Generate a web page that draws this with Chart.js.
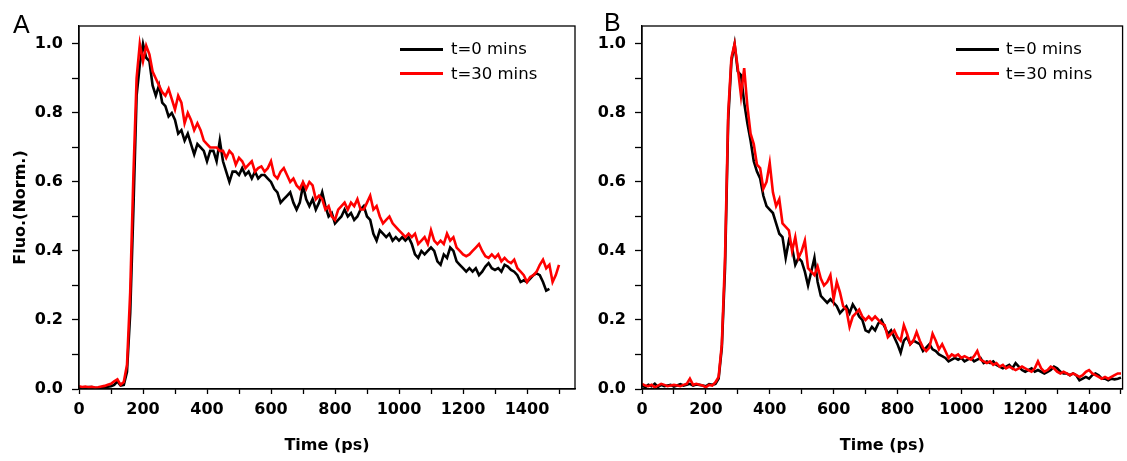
<!DOCTYPE html>
<html>
<head>
<meta charset="utf-8">
<script src="https://cdn.jsdelivr.net/npm/chart.js@4/dist/chart.umd.min.js"></script>
<style>
  body { margin: 0; background: #fff; width: 1127px; height: 461px; position: relative; overflow: hidden; }
  .panel { position: absolute; top: 0; }
  .letter { position: absolute; font: 25px "Liberation Sans", Arial, sans-serif; line-height: 25px; color: #000; }
  .leg { position: absolute; font: 16.5px "DejaVu Sans", sans-serif; line-height: 20px; color: #000; white-space: nowrap; }
  .legline { position: absolute; height: 3px; width: 43px; }
</style>
</head>
<body>
<div class="panel" style="left:0;width:590px;height:461px"><canvas id="chartA" width="590" height="461"></canvas></div>
<div class="panel" style="left:560px;width:567px;height:461px"><canvas id="chartB" width="567" height="461"></canvas></div>

<div class="letter" style="left:13px;top:12px">A</div>
<div class="letter" style="left:604px;top:10px">B</div>

<div class="legline" style="left:400px;top:47.5px;background:#000"></div>
<div class="leg" style="left:451px;top:39px">t=0 mins</div>
<div class="legline" style="left:400px;top:72px;background:#f00"></div>
<div class="leg" style="left:451px;top:63.5px">t=30 mins</div>

<div class="legline" style="left:956px;top:47.5px;background:#000"></div>
<div class="leg" style="left:1006px;top:39px">t=0 mins</div>
<div class="legline" style="left:956px;top:72px;background:#f00"></div>
<div class="leg" style="left:1006px;top:63.5px">t=30 mins</div>

<script>
// time axis (ps), shared by both panels
const timePs = [
  0,10,20,30,40,50,60,70,80,90,100,110,120,130,140,150,160,170,180,190,
  200,210,220,230,240,250,260,270,280,290,300,310,320,330,340,350,360,370,380,390,
  400,410,420,430,440,450,460,470,480,490,500,510,520,530,540,550,560,570,580,590,
  600,610,620,630,640,650,660,670,680,690,700,710,720,730,740,750,760,770,780,790,
  800,810,820,830,840,850,860,870,880,890,900,910,920,930,940,950,960,970,980,990,
  1000,1010,1020,1030,1040,1050,1060,1070,1080,1090,1100,1110,1120,1130,1140,1150,1160,1170,1180,1190,
  1200,1210,1220,1230,1240,1250,1260,1270,1280,1290,1300,1310,1320,1330,1340,1350,1360,1370,1380,1390,
  1400,1410,1420,1430,1440,1450,1460,1470,1480,1490,1500
];

// tick positions (labels only on every second one)
const xTickValues = [0,100,200,300,400,500,600,700,800,900,1000,1100,1200,1300,1400,1500];
const yTickValues = [0,0.1,0.2,0.3,0.4,0.5,0.6,0.7,0.8,0.9,1.0];

// Panel A, t=0 mins (ends at 1470 ps)
const aFluo0 = [
  0.005,0.004,0.004,0.006,0.006,0.003,0.003,0.005,0.006,0.007,
  0.008,0.012,0.022,0.010,0.012,0.050,0.220,0.520,0.850,0.940,
  1.000,0.960,0.950,0.880,0.850,0.880,0.830,0.820,0.790,0.800,
  0.780,0.740,0.750,0.720,0.740,0.710,0.680,0.710,0.700,0.690,
  0.660,0.690,0.690,0.660,0.720,0.660,0.630,0.600,0.630,0.630,
  0.620,0.640,0.620,0.630,0.610,0.630,0.610,0.620,0.620,0.610,
  0.600,0.580,0.570,0.540,0.550,0.560,0.570,0.540,0.520,0.540,
  0.590,0.550,0.530,0.550,0.520,0.540,0.570,0.530,0.500,0.510,
  0.480,0.490,0.500,0.520,0.500,0.510,0.490,0.500,0.520,0.530,
  0.500,0.490,0.450,0.430,0.460,0.450,0.440,0.450,0.430,0.440,
  0.430,0.440,0.430,0.440,0.420,0.390,0.380,0.400,0.390,0.400,
  0.410,0.400,0.370,0.360,0.390,0.380,0.410,0.400,0.370,0.360,
  0.350,0.340,0.350,0.340,0.350,0.330,0.340,0.355,0.365,0.350,
  0.345,0.350,0.340,0.360,0.355,0.345,0.340,0.330,0.310,0.315,
  0.310,0.320,0.330,0.335,0.330,0.310,0.285,0.290
];

// Panel A, t=30 mins
const aFluo30 = [
  0.008,0.006,0.007,0.005,0.006,0.004,0.005,0.007,0.009,0.012,
  0.015,0.022,0.028,0.012,0.020,0.070,0.280,0.620,0.900,1.000,
  0.950,0.995,0.970,0.920,0.900,0.880,0.860,0.850,0.870,0.840,
  0.810,0.850,0.830,0.770,0.800,0.780,0.750,0.770,0.750,0.720,
  0.710,0.700,0.700,0.700,0.690,0.690,0.670,0.690,0.680,0.650,
  0.670,0.660,0.640,0.650,0.660,0.630,0.640,0.645,0.630,0.640,
  0.660,0.620,0.610,0.630,0.640,0.620,0.600,0.610,0.590,0.580,
  0.600,0.580,0.600,0.590,0.550,0.560,0.550,0.520,0.530,0.500,
  0.490,0.520,0.530,0.540,0.520,0.540,0.530,0.550,0.520,0.520,
  0.540,0.560,0.520,0.530,0.500,0.480,0.490,0.500,0.480,0.470,
  0.460,0.450,0.440,0.450,0.440,0.450,0.420,0.430,0.440,0.420,
  0.460,0.430,0.420,0.430,0.420,0.450,0.430,0.440,0.410,0.400,
  0.390,0.385,0.390,0.400,0.410,0.420,0.400,0.385,0.380,0.390,
  0.380,0.390,0.370,0.380,0.370,0.365,0.375,0.350,0.340,0.330,
  0.310,0.325,0.330,0.340,0.360,0.375,0.350,0.360,0.310,0.330,
  0.360
];

// Panel B, t=0 mins
const bFluo0 = [
  0.010,0.005,0.012,0.008,0.015,0.006,0.012,0.008,0.010,0.012,
  0.007,0.010,0.014,0.010,0.012,0.015,0.010,0.013,0.012,0.010,
  0.008,0.014,0.012,0.015,0.030,0.120,0.350,0.780,0.950,1.000,
  0.920,0.910,0.830,0.770,0.720,0.660,0.630,0.610,0.560,0.530,
  0.520,0.510,0.480,0.450,0.440,0.380,0.430,0.410,0.360,0.380,
  0.370,0.340,0.300,0.340,0.380,0.310,0.270,0.260,0.250,0.260,
  0.250,0.240,0.220,0.230,0.240,0.220,0.245,0.230,0.210,0.200,
  0.170,0.165,0.180,0.170,0.190,0.200,0.180,0.160,0.170,0.150,
  0.130,0.105,0.140,0.150,0.130,0.140,0.135,0.130,0.110,0.120,
  0.130,0.115,0.110,0.100,0.095,0.090,0.080,0.085,0.090,0.085,
  0.090,0.080,0.085,0.090,0.080,0.085,0.090,0.075,0.080,0.075,
  0.080,0.070,0.065,0.060,0.065,0.070,0.060,0.075,0.065,0.055,
  0.050,0.055,0.060,0.050,0.055,0.050,0.045,0.050,0.055,0.065,
  0.060,0.050,0.045,0.045,0.040,0.045,0.040,0.025,0.030,0.035,
  0.030,0.040,0.045,0.040,0.030,0.030,0.025,0.030,0.028,0.030,
  0.033
];

// Panel B, t=30 mins
const bFluo30 = [
  0.015,0.010,0.008,0.012,0.005,0.010,0.015,0.012,0.008,0.010,
  0.012,0.010,0.008,0.012,0.015,0.030,0.012,0.015,0.012,0.010,
  0.005,0.012,0.010,0.020,0.035,0.130,0.380,0.800,0.960,1.000,
  0.930,0.850,0.930,0.820,0.740,0.710,0.650,0.640,0.580,0.600,
  0.655,0.570,0.530,0.550,0.480,0.470,0.460,0.400,0.440,0.380,
  0.400,0.430,0.350,0.340,0.330,0.355,0.320,0.300,0.310,0.330,
  0.260,0.310,0.280,0.240,0.230,0.180,0.210,0.220,0.230,0.210,
  0.200,0.210,0.200,0.210,0.200,0.190,0.185,0.150,0.160,0.170,
  0.150,0.140,0.185,0.160,0.130,0.140,0.165,0.140,0.120,0.110,
  0.120,0.160,0.140,0.115,0.130,0.110,0.090,0.100,0.095,0.100,
  0.090,0.095,0.090,0.085,0.095,0.110,0.085,0.080,0.075,0.080,
  0.070,0.075,0.065,0.070,0.060,0.065,0.060,0.055,0.060,0.065,
  0.060,0.055,0.050,0.060,0.080,0.060,0.050,0.055,0.065,0.060,
  0.050,0.045,0.050,0.045,0.040,0.045,0.040,0.035,0.040,0.050,
  0.055,0.045,0.040,0.035,0.030,0.035,0.030,0.035,0.040,0.045,
  0.045
];

const seriesLabels = ['t=0 mins', 't=30 mins'];
const seriesColors = ['#000000', '#ff0000'];
const xTitle = 'Time (ps)';
const yTitle = 'Fluo.(Norm.)';

function toPoints(values) {
  return values.map((v, i) => ({ x: timePs[i], y: v }));
}

// draw the closed frame around the plot area
const framePlugin = {
  id: 'frame',
  afterDraw(chart) {
    const { ctx, chartArea: a } = chart;
    ctx.save();
    ctx.strokeStyle = '#000';
    ctx.lineWidth = 1.3;
    ctx.strokeRect(a.left, a.top, a.right - a.left, a.bottom - a.top);
    ctx.restore();
  }
};

const tickFont = { family: '"DejaVu Sans", sans-serif', size: 16, weight: 'bold' };

function makeChart(canvasId, fluo0, fluo30, xMax, yAxisWidth, padRight, showYTitle) {
  return new Chart(document.getElementById(canvasId), {
    type: 'line',
    data: {
      datasets: [
        { label: seriesLabels[0], data: toPoints(fluo0), borderColor: seriesColors[0], order: 1 },
        { label: seriesLabels[1], data: toPoints(fluo30), borderColor: seriesColors[1], order: 0 }
      ]
    },
    options: {
      responsive: false,
      animation: false,
      devicePixelRatio: 1,
      layout: { padding: { top: 26, right: padRight, bottom: 0, left: 0 } },
      elements: {
        line: { borderWidth: 2.6, tension: 0, fill: false },
        point: { radius: 0 }
      },
      plugins: { legend: { display: false }, tooltip: { enabled: false } },
      scales: {
        x: {
          type: 'linear',
          min: 0,
          max: xMax,
          afterFit: (s) => { s.height = 72; },
          afterBuildTicks: (s) => { s.ticks = xTickValues.map((v) => ({ value: v })); },
          ticks: {
            autoSkip: false,
            maxRotation: 0,
            padding: 6,
            color: '#000',
            font: tickFont,
            callback: (v) => (v % 200 === 0 ? v : '')
          },
          grid: { drawOnChartArea: false, tickLength: 5, tickColor: '#000', tickWidth: 1.3 },
          border: { color: '#000', width: 1.3 },
          title: {
            display: true,
            text: xTitle,
            color: '#000',
            font: tickFont,
            padding: { top: 0, bottom: 6 }
          }
        },
        y: {
          min: 0,
          max: 1.052,
          afterFit: (s) => { s.width = yAxisWidth; },
          afterBuildTicks: (s) => { s.ticks = yTickValues.map((v) => ({ value: v })); },
          ticks: {
            autoSkip: false,
            padding: 9,
            color: '#000',
            font: tickFont,
            callback: (v) => (Math.round(v * 10) % 2 === 0 ? v.toFixed(1) : '')
          },
          grid: { drawOnChartArea: false, tickLength: 7, tickColor: '#000', tickWidth: 1.3 },
          border: { color: '#000', width: 1.3 },
          title: {
            display: showYTitle,
            text: yTitle,
            color: '#000',
            font: tickFont,
            padding: { top: 11, bottom: 0 }
          }
        }
      }
    },
    plugins: [framePlugin]
  });
}

makeChart('chartA', aFluo0, aFluo30, 1550, 79, 15, true);
makeChart('chartB', bFluo0, bFluo30, 1505, 82, 4, false);
</script>
</body>
</html>
